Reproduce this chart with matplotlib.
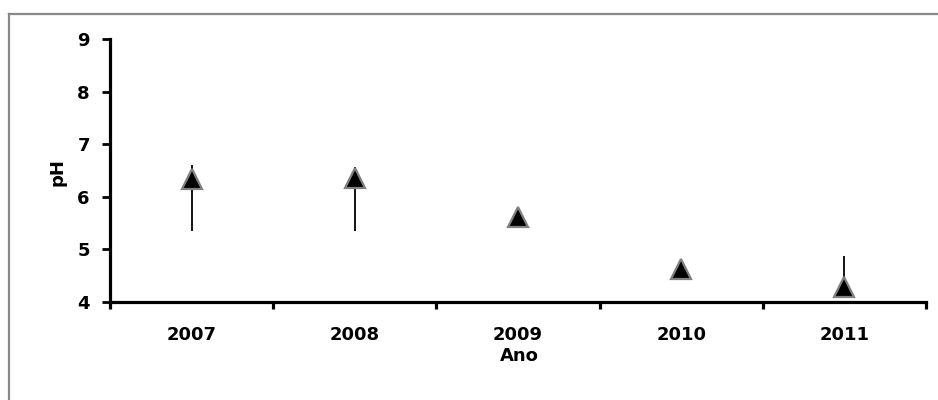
import matplotlib
matplotlib.use("Agg")
import matplotlib.pyplot as plt
import numpy as np
from matplotlib.lines import Line2D

years = ["2007", "2008", "2009", "2010", "2011"]
ph_values = [6.33, 6.35, 5.62, 4.62, 4.28]
ph_low = [5.35, 5.35, np.nan, np.nan, 4.07]
ph_high = [6.60, 6.57, np.nan, np.nan, 4.87]
y_ticks = [4, 5, 6, 7, 8, 9]

W, H = 938, 400
fig = plt.figure(figsize=(W / 100, H / 100), dpi=100)
fig.patch.set_facecolor("white")

ax = fig.add_axes([110 / W, 1 - 302 / H, (926 - 110) / W, (302 - 39) / H])

x = np.arange(len(years))
ax.vlines(x, ph_low, ph_high, color="black", lw=1.3, zorder=2)
ax.plot(x, ph_values, linestyle="none", marker="^", markersize=14,
        markerfacecolor="black", markeredgecolor="#808080", markeredgewidth=1.6,
        zorder=3, clip_on=False)

ax.set_xlim(-0.5, len(years) - 0.5)
ax.set_ylim(4, 9)
ax.set_yticks(y_ticks)
ax.set_xticks(x)
ax.set_xticklabels(years)
ax.set_xticks(np.arange(len(years) + 1) - 0.5, minor=True)

for s in ["top", "right"]:
    ax.spines[s].set_visible(False)
for s in ["left", "bottom"]:
    ax.spines[s].set_linewidth(2.3)
    ax.spines[s].set_color("black")

ax.tick_params(axis="x", which="major", length=0, pad=17, labelsize=13)
ax.tick_params(axis="x", which="minor", length=5, width=2.3, direction="out", color="black")
ax.tick_params(axis="y", which="major", length=5.5, width=2, direction="out", pad=9, labelsize=13)
for lab in ax.get_xticklabels() + ax.get_yticklabels():
    lab.set_fontweight("bold")

fig.text(57 / W, 1 - 172 / H, "pH", rotation=90, ha="center", va="center",
         fontsize=13, fontweight="bold")
fig.text(519 / W, 1 - 356 / H, "Ano", ha="center", va="center",
         fontsize=13, fontweight="bold")

# outer gray frame
fig.add_artist(Line2D([8.5 / W, 8.5 / W], [0, 1 - 13.5 / H], transform=fig.transFigure,
                      color="#888888", lw=1.6))
fig.add_artist(Line2D([8.5 / W, 1], [1 - 13.5 / H, 1 - 13.5 / H], transform=fig.transFigure,
                      color="#888888", lw=1.6))

fig.savefig("out.png", dpi=100, facecolor="white")
